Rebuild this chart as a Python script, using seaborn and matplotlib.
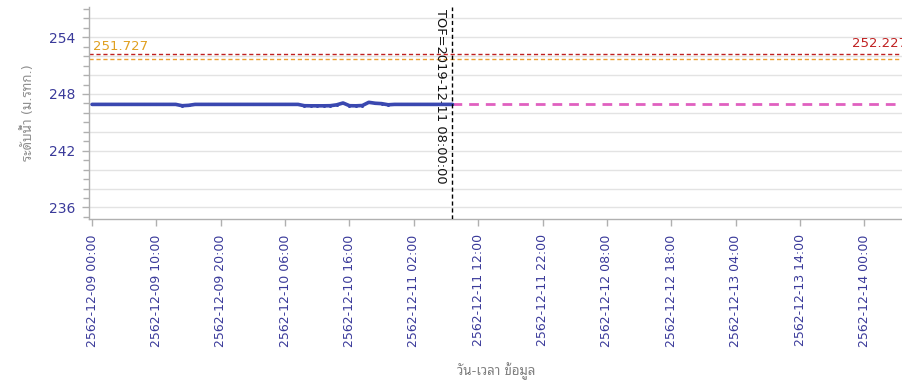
import pandas as pd
import numpy as np
import seaborn as sns
import matplotlib
matplotlib.use("Agg")
import matplotlib.pyplot as plt
from matplotlib.ticker import MultipleLocator, FixedLocator

# observed water level (m. MSL), hourly from 2019-12-09 00:00 to the TOF
obs_level = [246.90, 246.90, 246.90, 246.90, 246.90, 246.90, 246.90, 246.90,
             246.90, 246.90, 246.90, 246.90, 246.90, 246.90, 246.76, 246.80,
             246.90, 246.90, 246.90, 246.90, 246.90, 246.90, 246.90, 246.90,
             246.90, 246.90, 246.90, 246.90, 246.90, 246.90, 246.90, 246.90,
             246.90, 246.76, 246.75, 246.75, 246.75, 246.76, 246.85, 247.05,
             246.76, 246.75, 246.78, 247.12, 247.02, 246.98, 246.86, 246.90,
             246.90, 246.90, 246.90, 246.90, 246.90, 246.90, 246.90, 246.90,
             246.90]
obs_time = pd.date_range("2019-12-09 00:00", periods=len(obs_level), freq="h")

# forecast after TOF
fc_time = pd.to_datetime(["2019-12-11 08:00", "2019-12-12 08:00", "2019-12-13 08:00",
                          "2019-12-14 08:00"])
fc_level = [246.90, 246.90, 246.90, 246.90]

tof = pd.Timestamp("2019-12-11 08:00")
tof_label = "TOF=2019-12-11 08:00:00"
level_red = 252.227
level_orange = 251.727

tick_time = pd.date_range("2019-12-09 00:00", periods=13, freq="10h")
tick_labels = ["2562-12-09 00:00", "2562-12-09 10:00", "2562-12-09 20:00",
               "2562-12-10 06:00", "2562-12-10 16:00", "2562-12-11 02:00",
               "2562-12-11 12:00", "2562-12-11 22:00", "2562-12-12 08:00",
               "2562-12-12 18:00", "2562-12-13 04:00", "2562-12-13 14:00",
               "2562-12-14 00:00"]
y_ticks = [236, 242, 248, 254]

sns.set_style("white")
plt.rcParams['font.family'] = ['DejaVu Sans', 'Noto Sans Thai Looped']
thai = ['DejaVu Sans', 'Noto Sans Thai Looped']

fig = plt.figure(figsize=(9.03, 3.82), dpi=100)
ax = fig.add_axes([0.0986, 0.4267, 0.9014, 0.5550])

for g in np.arange(236, 258, 2):
    ax.axhline(g, color="#e3e3e3", lw=1, zorder=0)

ax.axhline(level_red, color="#c02020", lw=1, ls=(0, (3, 2)), zorder=2)
ax.axhline(level_orange, color="#eca030", lw=1, ls=(0, (3, 2)), zorder=2)

sns.lineplot(x=fc_time, y=fc_level, ax=ax, color="#e060c0", lw=2,
             linestyle=(0, (3.5, 2.5)), zorder=3)
sns.lineplot(x=obs_time, y=obs_level, ax=ax, color="#3a48b0", lw=2.6,
             marker="o", markersize=2.2, markeredgewidth=0, zorder=4)

ax.axvline(tof, color="black", lw=1, ls=(0, (3, 2)), zorder=5)
ax.text(tof - pd.Timedelta(minutes=55), 256.95, tof_label, rotation=-90,
        ha="right", va="top", fontsize=9.4, color="#111111")

ax.annotate(f"{level_orange:.3f}", xy=(0, level_orange), xycoords=("axes fraction", "data"),
            xytext=(3, 4), textcoords="offset points", ha="left", va="bottom",
            fontsize=9.5, color="#e0a020")
ax.annotate(f"{level_red:.3f}", xy=(1, level_red), xycoords=("axes fraction", "data"),
            xytext=(3, 3), textcoords="offset points", ha="right", va="bottom",
            fontsize=9.5, color="#c02020", annotation_clip=False)

ax.set_xlim(pd.Timestamp("2019-12-08 23:32"), pd.Timestamp("2019-12-14 06:00"))
ax.set_ylim(234.78, 257.2)

ax.xaxis.set_major_locator(FixedLocator(matplotlib.dates.date2num(tick_time)))
ax.set_xticklabels(tick_labels, rotation=90, fontsize=9, color="#3a3a9a")
ax.set_yticks(y_ticks)
ax.set_yticklabels([str(v) for v in y_ticks], fontsize=10, color="#3a3a9a")
ax.yaxis.set_minor_locator(MultipleLocator(1))
ax.tick_params(axis="x", which="major", direction="out", length=5, width=1,
               color="#b0b0b0", pad=6, bottom=True)
ax.tick_params(axis="y", which="major", direction="out", length=5, width=1,
               color="#b0b0b0", pad=5, left=True)
ax.tick_params(axis="y", which="minor", direction="out", length=4, width=1,
               color="#b0b0b0", left=True)

for s in ["top", "right"]:
    ax.spines[s].set_visible(False)
for s in ["left", "bottom"]:
    ax.spines[s].set_color("#b0b0b0")
    ax.spines[s].set_linewidth(1)

ax.set_xlabel("วัน-เวลา ข้อมูล", fontsize=9.5, color="#808080", family=thai, labelpad=11)
ax.set_ylabel("ระดับน้ำ (ม.รทก.)", fontsize=9.5, color="#909090", family=thai, labelpad=10)

fig.savefig("out.png", dpi=100)
